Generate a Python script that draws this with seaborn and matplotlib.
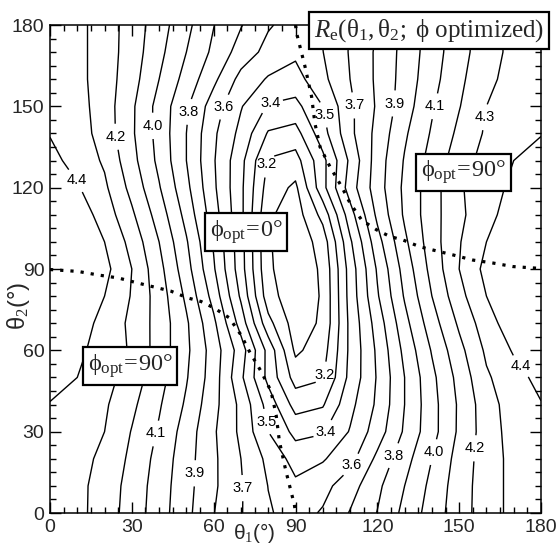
import numpy as np
import matplotlib
matplotlib.use("Agg")
import matplotlib.pyplot as plt
import seaborn as sns
from matplotlib.ticker import MultipleLocator

# ---- data (R_e on a 10 deg grid) ----
theta1 = [0, 10, 20, 30, 40, 50, 60, 70, 80, 90, 100, 110, 120, 130, 140, 150, 160, 170, 180]
theta2 = [0, 10, 20, 30, 40, 50, 60, 70, 80, 90, 100, 110, 120, 130, 140, 150, 160, 170, 180]

r0 = [4.37, 4.33, 4.25, 4.157, 4.045, 3.927, 3.803, 3.706, 3.61, 3.56, 3.61, 3.706, 3.803, 3.927, 4.045, 4.157, 4.25, 4.33, 4.37]
r10 = [4.37, 4.33, 4.254, 4.164, 4.051, 3.934, 3.817, 3.708, 3.598, 3.52, 3.568, 3.657, 3.778, 3.90, 4.027, 4.153, 4.25, 4.33, 4.37]
r20 = [4.37, 4.34, 4.273, 4.178, 4.065, 3.94, 3.818, 3.70, 3.575, 3.46, 3.49, 3.567, 3.723, 3.862, 4.0, 4.14, 4.25, 4.33, 4.37]
r30 = [4.385, 4.36, 4.30, 4.195, 4.088, 3.954, 3.813, 3.679, 3.50, 3.37, 3.39, 3.507, 3.65, 3.814, 3.964, 4.117, 4.25, 4.34, 4.375]
r40 = [4.395, 4.362, 4.314, 4.222, 4.111, 3.985, 3.831, 3.675, 3.46, 3.26, 3.29, 3.471, 3.618, 3.80, 3.964, 4.115, 4.256, 4.35, 4.395]
r50 = [4.44, 4.40, 4.338, 4.253, 4.138, 4.008, 3.85, 3.62, 3.37, 3.16, 3.19, 3.43, 3.609, 3.80, 3.975, 4.133, 4.286, 4.364, 4.43]
r60 = [4.47, 4.42, 4.361, 4.287, 4.156, 4.021, 3.855, 3.65, 3.367, 3.08, 3.155, 3.422, 3.618, 3.827, 4.008, 4.169, 4.318, 4.41, 4.47]
r70 = [4.52, 4.45, 4.367, 4.278, 4.16, 4.015, 3.822, 3.557, 3.233, 3.05, 3.116, 3.425, 3.644, 3.867, 4.055, 4.217, 4.356, 4.46, 4.52]
r80 = [4.55, 4.49, 4.40, 4.293, 4.154, 3.98, 3.762, 3.483, 3.143, 3.03, 3.111, 3.438, 3.689, 3.91, 4.10, 4.267, 4.40, 4.49, 4.55]
r90 = [4.57, 4.51, 4.43, 4.30, 4.133, 3.94, 3.712, 3.443, 3.117, 3.03, 3.117, 3.443, 3.712, 3.94, 4.133, 4.30, 4.43, 4.51, 4.57]
r100 = [4.55, 4.49, 4.40, 4.267, 4.10, 3.91, 3.689, 3.438, 3.111, 3.03, 3.143, 3.483, 3.762, 3.98, 4.154, 4.293, 4.40, 4.49, 4.55]
r110 = [4.52, 4.46, 4.356, 4.217, 4.055, 3.867, 3.644, 3.425, 3.116, 3.05, 3.233, 3.557, 3.822, 4.015, 4.16, 4.278, 4.367, 4.45, 4.52]
r120 = [4.47, 4.41, 4.318, 4.169, 4.008, 3.827, 3.618, 3.422, 3.155, 3.08, 3.367, 3.65, 3.855, 4.021, 4.156, 4.287, 4.361, 4.42, 4.47]
r130 = [4.43, 4.364, 4.286, 4.133, 3.975, 3.80, 3.609, 3.43, 3.19, 3.16, 3.37, 3.62, 3.85, 4.008, 4.138, 4.253, 4.338, 4.40, 4.44]
r140 = [4.395, 4.35, 4.256, 4.115, 3.964, 3.80, 3.618, 3.471, 3.29, 3.26, 3.46, 3.675, 3.831, 3.985, 4.111, 4.222, 4.314, 4.362, 4.395]
r150 = [4.375, 4.34, 4.25, 4.117, 3.964, 3.814, 3.65, 3.507, 3.39, 3.37, 3.50, 3.679, 3.813, 3.954, 4.088, 4.195, 4.30, 4.36, 4.385]
r160 = [4.37, 4.33, 4.25, 4.14, 4.0, 3.862, 3.723, 3.567, 3.49, 3.46, 3.575, 3.70, 3.818, 3.94, 4.065, 4.178, 4.273, 4.34, 4.37]
r170 = [4.37, 4.33, 4.25, 4.153, 4.027, 3.90, 3.778, 3.657, 3.568, 3.52, 3.598, 3.708, 3.817, 3.934, 4.051, 4.164, 4.254, 4.33, 4.37]
r180 = [4.37, 4.33, 4.25, 4.157, 4.045, 3.927, 3.803, 3.706, 3.61, 3.56, 3.61, 3.706, 3.803, 3.927, 4.045, 4.157, 4.25, 4.33, 4.37]

levels = [3.1, 3.2, 3.3, 3.4, 3.5, 3.6, 3.7, 3.8, 3.9, 4.0, 4.1, 4.2, 4.3, 4.4]

# phi_opt switching line (two branches)
upper_t1 = [90, 90.4, 93.5, 95.9, 97.1, 99, 102.6, 106.9, 110, 114.3, 119.8, 124.6, 129.4, 135.6, 140.4, 147.7, 155, 162.4, 169.7, 177, 180]
upper_t2 = [180, 177, 164.6, 153.6, 143.8, 135, 127.8, 120.4, 114.3, 108, 104.4, 102, 100.7, 98.2, 97, 95.2, 93.3, 92.2, 90.9, 90.4, 90.2]
lower_t1 = [0, 3, 10.3, 17.6, 25, 32.3, 39.6, 44.4, 50.6, 55.4, 60.2, 65.7, 70, 73.1, 77.4, 81, 82.9, 84.1, 86.5, 89.6, 90]
lower_t2 = [89.8, 89.6, 89.1, 87.8, 86.7, 84.8, 83, 81.8, 79.3, 78, 75.6, 72, 65.7, 59.6, 52.2, 45, 36.2, 26.4, 15.4, 3, 0]

# where the contour labels sit
label_pos = [(9.8, 122.8), (24.4, 138.8), (37.3, 142.8), (51, 148), (62.9, 150), (80.6, 151.6), (80.6, 128.4),
             (100.8, 147), (112.4, 150.5), (127, 151), (141.7, 149.9), (160.6, 145.8),
             (37.9, 29.5), (51.3, 14.7), (68.4, 9.2), (78.5, 33.5),
             (100.8, 51), (102.3, 28.8), (112.4, 16.6), (128.3, 20.3), (140.4, 22.5), (154, 24), (170.5, 52.7)]

sns.set_style("ticks")
plt.rcParams['font.family'] = ['Liberation Sans', 'DejaVu Sans']
plt.rcParams['mathtext.fontset'] = 'custom'
plt.rcParams['mathtext.rm'] = 'Liberation Serif'
plt.rcParams['mathtext.it'] = 'Liberation Serif:italic'
plt.rcParams['mathtext.sf'] = 'Liberation Sans'

Z = np.array([r0, r10, r20, r30, r40, r50, r60, r70, r80, r90,
              r100, r110, r120, r130, r140, r150, r160, r170, r180])

fig = plt.figure(figsize=(5.57, 5.46), dpi=100)
ax = fig.add_axes([50 / 557, 33 / 546, 491 / 557, 488 / 546])

cs = ax.contour(theta1, theta2, Z, levels=levels, colors='k', linewidths=1.0)
txts = ax.clabel(cs, manual=label_pos, fmt='%.1f', fontsize=10.5, inline=True, inline_spacing=3)
for t in txts:
    t.set_rotation(0)

sns.lineplot(x=upper_t1, y=upper_t2, sort=False, estimator=None, color='k', lw=2.3,
             linestyle=(0, (1, 2.2)), ax=ax)
sns.lineplot(x=lower_t1, y=lower_t2, sort=False, estimator=None, color='k', lw=2.3,
             linestyle=(0, (1, 2.2)), ax=ax)

ax.set_xlim(0, 180)
ax.set_ylim(0, 180)
ax.xaxis.set_major_locator(MultipleLocator(30))
ax.yaxis.set_major_locator(MultipleLocator(30))
ax.xaxis.set_minor_locator(MultipleLocator(5))
ax.yaxis.set_minor_locator(MultipleLocator(5))
ax.tick_params(which='both', direction='in', top=True, right=True, width=1.0, color='k')
ax.tick_params(which='major', length=8, labelsize=14, pad=4)
ax.tick_params(which='minor', length=4.5)
for s in ax.spines.values():
    s.set_linewidth(1.1)
    s.set_color('k')

box = dict(boxstyle='square,pad=0.2', fc='white', ec='k', lw=1.6)
ax.text(71.8, 103.6, r'$\mathrm{\phi}_{\mathrm{opt}}\!=\!0\degree$', fontsize=17.5, ha='center', va='center', bbox=box)
ax.text(151.6, 125.6, r'$\mathrm{\phi}_{\mathrm{opt}}\!=\!90\degree$', fontsize=17.5, ha='center', va='center', bbox=box)
ax.text(29.3, 54.2, r'$\mathrm{\phi}_{\mathrm{opt}}\!=\!90\degree$', fontsize=17.5, ha='center', va='center', bbox=box)
ax.text(0.771, 0.988, r'$R_{\mathrm{e}}(\mathrm{\theta}_1,\mathrm{\theta}_2;\ \mathrm{\phi\ optimized})$',
        transform=ax.transAxes, fontsize=18, ha='center', va='center', bbox=box, clip_on=False)

fig.text(254 / 557, 1 / 546, r'$\mathsf{\theta}_1\mathsf{(\degree)}$', fontsize=15, ha='center', va='bottom')
fig.text(18 / 557, 1 - 306 / 546, r'$\mathsf{\theta}_2\mathsf{(\degree)}$', fontsize=17, ha='center', va='center',
         rotation=90)

fig.savefig('out.png', dpi=100)
